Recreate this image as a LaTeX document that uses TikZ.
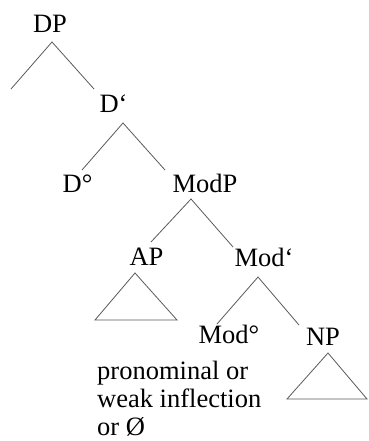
\documentclass[tikz,border=0pt]{standalone}
\usepackage{fontspec}
\setmainfont{Liberation Serif}
\usepackage{tikz}
\usetikzlibrary{positioning}

\tikzset{
    lbl/.style={inner sep=0pt, anchor=base, font=\fontsize{26.5}{28}\selectfont},
    branch/.style={draw=black!65, line width=0.8pt}
}

\begin{document}
\begin{tikzpicture}[x=1pt, y=-1pt]
    \useasboundingbox (0,0) rectangle (368,441);

    \node[lbl] (DP) at (50,33) {DP};
    \node[lbl] (Dbar) at (113.5,113) {D‘};
    \node[lbl] (Dzero) at (77.5,192) {D°};
    \node[lbl] (ModP) at (205,192) {ModP};
    \node[lbl] (AP) at (146.5,265) {AP};
    \node[lbl] (Modbar) at (264,266) {Mod‘};
    \node[lbl] (Modzero) at (229,343) {Mod°};
    \node[lbl] (NP) at (323,345) {NP};
    \node[
        lbl,
        anchor=north west,
        align=left] (gloss) at (97,361) {pronominal or\\weak inflection\\or Ø};

    \coordinate (DPtop) at (52,42);
    \coordinate (Spec) at (11,89);
    \coordinate (Dbarin) at (94,89);
    \coordinate (Dbartop) at (123,123);
    \coordinate (Dzeroin) at (82,170);
    \coordinate (ModPin) at (165,170);
    \coordinate (ModPtop) at (191,199);
    \coordinate (APin) at (151,242);
    \coordinate (Modbarin) at (233,247);
    \coordinate (Modbartop) at (258,277);
    \coordinate (Modzeroin) at (217,324);
    \coordinate (NPin) at (299,325);

    \draw[branch] (Spec) -- (DPtop) -- (Dbarin);
    \draw[branch] (Dzeroin) -- (Dbartop) -- (ModPin);
    \draw[branch] (APin) -- (ModPtop) -- (Modbarin);
    \draw[branch] (Modzeroin) -- (Modbartop) -- (NPin);

    \coordinate (APtri) at (135,273);
    \coordinate (APtril) at (95,320);
    \coordinate (APtrir) at (177,320);
    \coordinate (NPtri) at (328,353);
    \coordinate (NPtril) at (287,399);
    \coordinate (NPtrir) at (367,399);
    \draw[branch] (APtri) -- (APtril) -- (APtrir) -- cycle;
    \draw[branch] (NPtri) -- (NPtril) -- (NPtrir) -- cycle;
\end{tikzpicture}
\end{document}
